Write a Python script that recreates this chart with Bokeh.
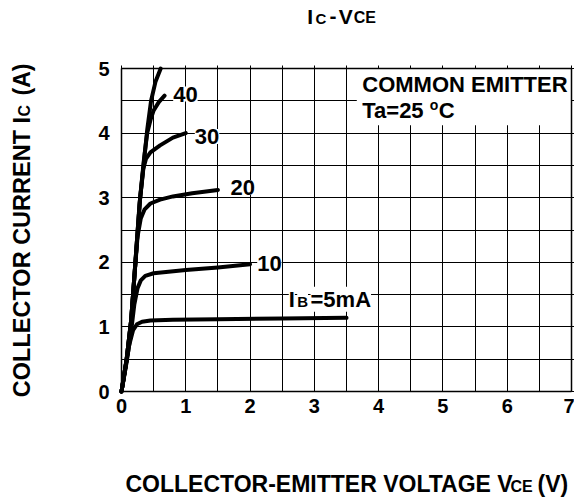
import math
from bokeh.plotting import figure
from bokeh.models import Label, BoxAnnotation, FixedTicker, Range1d, LinearAxis, Grid
from bokeh.embed import file_html
from bokeh.resources import INLINE

FONT = "Liberation Sans"

# ---- data ----
x_ticks = [0, 1, 2, 3, 4, 5, 6, 7]
x_minor = [0.5, 1.5, 2.5, 3.5, 4.5, 5.5, 6.5]
y_ticks = [0, 1, 2, 3, 4, 5]
y_minor = [0.5, 1.5, 2.5, 3.5, 4.5]

V_5 = [0.0, 0.06, 0.12, 0.18, 0.24, 0.32, 0.45, 0.8, 1.5, 2.5, 3.5]
I_5 = [0.0, 0.35, 0.72, 0.95, 1.04, 1.08, 1.10, 1.11, 1.12, 1.13, 1.14]

V_10 = [0.0, 0.07, 0.14, 0.20, 0.25, 0.30, 0.37, 0.50, 1.0, 1.5, 2.0]
I_10 = [0.0, 0.40, 0.85, 1.35, 1.60, 1.72, 1.79, 1.83, 1.88, 1.92, 1.97]

V_20 = [0.0, 0.08, 0.15, 0.21, 0.25, 0.30, 0.36, 0.45, 0.60, 0.80, 1.10, 1.50]
I_20 = [0.0, 0.50, 1.10, 1.90, 2.40, 2.68, 2.82, 2.91, 2.97, 3.02, 3.07, 3.12]

V_30 = [0.0, 0.08, 0.15, 0.22, 0.28, 0.34, 0.38, 0.45, 0.60, 0.80, 1.00]
I_30 = [0.0, 0.50, 1.10, 2.05, 2.90, 3.45, 3.60, 3.70, 3.81, 3.93, 4.00]

V_40 = [0.0, 0.08, 0.15, 0.22, 0.29, 0.35, 0.40, 0.45, 0.50, 0.58, 0.67]
I_40 = [0.0, 0.50, 1.10, 2.05, 3.00, 3.60, 4.00, 4.20, 4.35, 4.48, 4.58]

V_50 = [0.0, 0.08, 0.15, 0.22, 0.29, 0.35, 0.40, 0.46, 0.53, 0.61]
I_50 = [0.0, 0.50, 1.10, 2.05, 3.00, 3.57, 4.05, 4.50, 4.80, 5.00]

curves = [(V_5, I_5), (V_10, I_10), (V_20, I_20), (V_30, I_30), (V_40, I_40), (V_50, I_50)]

X_MIN, X_MAX = 0, 7
Y_MIN, Y_MAX = 0, 5

# ---- layout: the frame fills the canvas; the data box sits where the reference has it ----
W, H = 574, 498
BOX_L, BOX_R, BOX_T, BOX_B = 121, 571, 68, 391      # pixel edges of the data box
xs = (BOX_R - BOX_L) / (X_MAX - X_MIN)
ys = (BOX_B - BOX_T) / (Y_MAX - Y_MIN)

p = figure(width=W, height=H, output_backend="svg", toolbar_location=None,
           x_axis_type=None, y_axis_type=None, min_border=0,
           x_range=Range1d(X_MIN - BOX_L / xs, X_MIN + (W - BOX_L) / xs),
           y_range=Range1d(Y_MIN - (H - BOX_B) / ys, Y_MIN + BOX_B / ys))
p.background_fill_color = "white"
p.border_fill_color = "white"
p.outline_line_color = None

xt = FixedTicker(ticks=x_ticks, minor_ticks=x_minor)
yt = FixedTicker(ticks=y_ticks, minor_ticks=y_minor)

for dim, tk, cb, b in ((0, xt, (Y_MIN, Y_MAX), (X_MIN, X_MAX)),
                       (1, yt, (X_MIN, X_MAX), (Y_MIN, Y_MAX))):
    g = Grid(dimension=dim, ticker=tk, cross_bounds=cb, bounds=b,
             grid_line_color="black", grid_line_width=1,
             minor_grid_line_color="black", minor_grid_line_width=1)
    p.add_layout(g)


def axis(loc, bounds, ticker, labels, out=0):
    ax = LinearAxis(fixed_location=loc, bounds=bounds, ticker=ticker,
                    axis_line_color="black", axis_line_width=1.5,
                    major_tick_in=0, major_tick_out=out, minor_tick_in=0, minor_tick_out=out,
                    major_tick_line_color="black" if out else None,
                    minor_tick_line_color="black" if out else None)
    if labels:
        ax.major_label_text_font = FONT
        ax.major_label_text_font_style = "bold"
        ax.major_label_text_font_size = "20px"
        ax.major_label_text_color = "black"
    return ax


bx = axis(Y_MIN, (X_MIN, X_MAX), FixedTicker(ticks=x_ticks), True)
bx.major_label_standoff = 7
p.add_layout(bx, "below")
ly = axis(X_MIN, (Y_MIN, Y_MAX), FixedTicker(ticks=y_ticks), True)
ly.major_label_standoff = 12
p.add_layout(ly, "left")
p.add_layout(axis(Y_MAX, (X_MIN, X_MAX), FixedTicker(ticks=[], minor_ticks=x_ticks + x_minor), False, out=3), "above")
p.add_layout(axis(X_MAX, (Y_MIN, Y_MAX), FixedTicker(ticks=[], minor_ticks=y_ticks + y_minor), False, out=3), "right")

# white panel behind the "COMMON EMITTER" note
p.add_layout(BoxAnnotation(left=3.66, right=7.0, bottom=4.12, top=5.0,
                           fill_color="white", fill_alpha=1.0, line_color=None,
                           level="underlay"))

LIFT = 0.37   # baseline correction, in em


def lab(x, y, text, size, angle=0.0, bg=False):
    shift = LIFT * size
    if angle == 0.0:
        y = y + shift / ys
    else:
        x = x - shift / xs
    kw = dict(x=x, y=y, text=text, text_font=FONT, text_font_style="bold",
              text_font_size=f"{size}px", text_color="black", text_align="left",
              text_baseline="alphabetic", angle=angle)
    if bg:
        kw.update(background_fill_color="white", background_fill_alpha=1.0, level="underlay")
    p.add_layout(Label(**kw))


# curve labels (white background, drawn under the curves)
lab(0.804, 4.478, "40", 22, bg=True)
lab(1.140, 3.822, "30", 22, bg=True)
lab(1.695, 3.032, "20", 22, bg=True)
lab(2.111, 1.859, "10", 22, bg=True)
lab(2.602, 1.302, "I", 22, bg=True)
lab(2.733, 1.302, "B", 15, bg=True)
lab(2.940, 1.302, "=5mA", 22, bg=True)

for vx, iy in curves:
    p.line(vx, iy, line_color="black", line_width=4, line_join="round", line_cap="round")

# note
lab(3.745, 4.630, "COMMON EMITTER", 22)
lab(3.745, 4.220, "Ta=25", 22)
lab(4.795, 4.350, "o", 14)
lab(4.935, 4.220, "C", 22)

# title  Ic - Vce
lab(2.889, 5.692, "I", 21)
lab(3.018, 5.692, "C", 15)
lab(3.236, 5.692, "-", 21)
lab(3.380, 5.692, "V", 21)
lab(3.613, 5.692, "CE", 16)

# x axis title
lab(0.062, -1.559, "COLLECTOR-EMITTER VOLTAGE V", 23)
lab(6.051, -1.559, "CE", 16)
lab(6.472, -1.559, "(V)", 23)

# y axis title (rotated)
a = math.pi / 2
lab(-1.4155, -0.088, "COLLECTOR CURRENT I", 23.5, angle=a)
lab(-1.4155, 4.257, "C", 16, angle=a)
lab(-1.4155, 4.582, "(A)", 23, angle=a)

open("out.html", "w").write(file_html(p, INLINE))
